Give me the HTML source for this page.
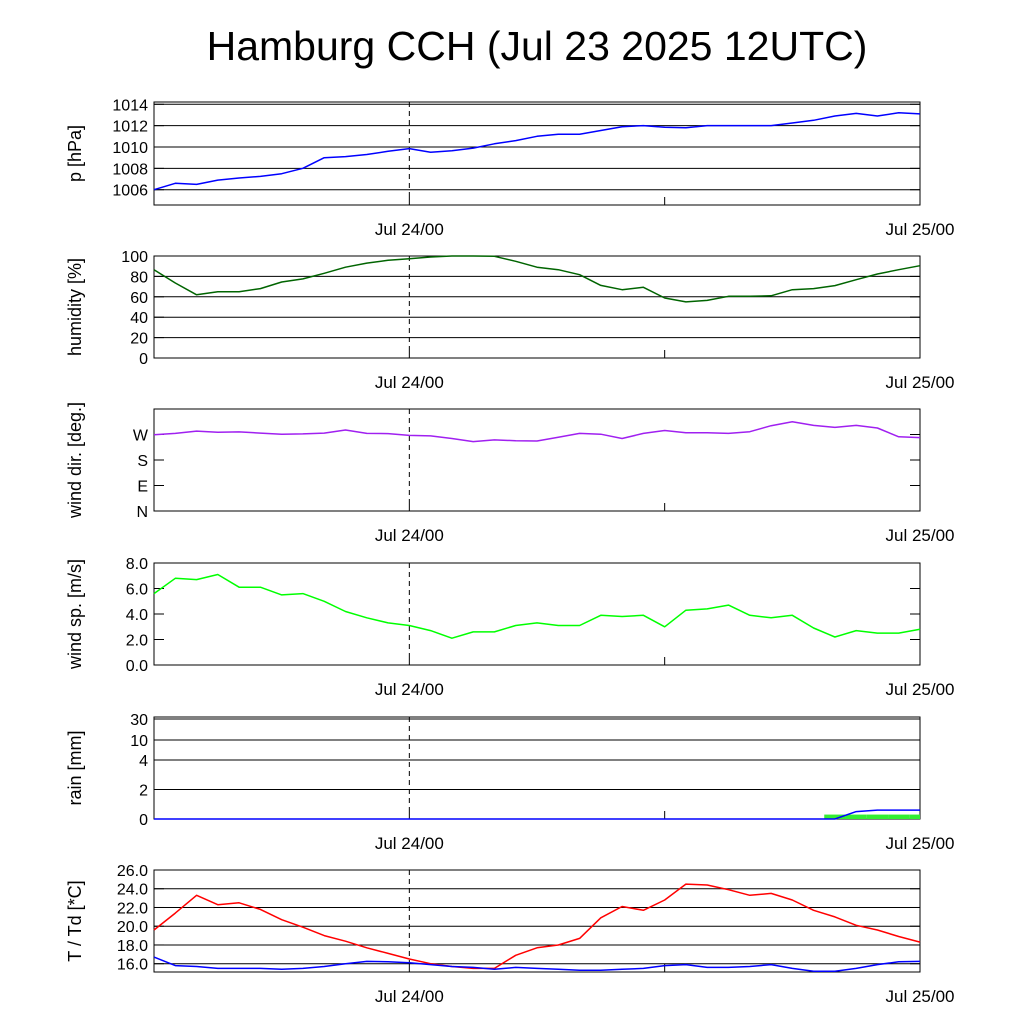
<!DOCTYPE html>
<html><head><meta charset="utf-8"><style>
body{margin:0;background:#fff;}
svg{display:block;font-family:"Liberation Sans",sans-serif;}
</style></head><body>
<svg id="c" width="1024" height="1024" viewBox="0 0 1024 1024">
<text x="537" y="60" font-size="41" text-anchor="middle">Hamburg CCH (Jul 23 2025 12UTC)</text>
</svg>
<script>
const hours = [0,1,2,3,4,5,6,7,8,9,10,11,12,13,14,15,16,17,18,19,20,21,22,23,24,25,26,27,28,29,30,31,32,33,34,35,36];
const pressure = [1006.0,1006.6,1006.5,1006.9,1007.1,1007.25,1007.5,1008.0,1009.0,1009.1,1009.3,1009.6,1009.85,1009.5,1009.65,1009.9,1010.3,1010.6,1011.0,1011.2,1011.2,1011.55,1011.9,1012.0,1011.85,1011.8,1012.0,1012.0,1012.0,1012.0,1012.25,1012.5,1012.9,1013.15,1012.9,1013.2,1013.1];
const humidity = [86.6,73.5,62,65,65,68,74.5,77.5,83,89,93,95.8,97.4,99,100,100,99.7,94.8,89,86.6,81.7,71.2,67,69.3,58.8,55,56.5,60.5,60.5,61,67,68,71,76.8,82.4,86.6,90.5];
const windDir = [269,274,282,278,279,275,271,272,275,286,274,273,267,265,256,245,251,248,247,260,274,271,256,274,284,276,276,274,280,301,315,302,295,302,293,262,259];
const windSpeed = [5.6,6.8,6.7,7.1,6.1,6.1,5.5,5.6,5.0,4.2,3.7,3.3,3.1,2.7,2.1,2.6,2.6,3.1,3.3,3.1,3.1,3.9,3.8,3.9,3.0,4.3,4.4,4.7,3.9,3.7,3.9,2.9,2.2,2.7,2.5,2.5,2.8];
const rainHourly = [0,0,0,0,0,0,0,0,0,0,0,0,0,0,0,0,0,0,0,0,0,0,0,0,0,0,0,0,0,0,0,0,0.3,0.3,0.3,0.3,0.3];
const rainAccum = [0,0,0,0,0,0,0,0,0,0,0,0,0,0,0,0,0,0,0,0,0,0,0,0,0,0,0,0,0,0,0,0,0,0.5,0.6,0.6,0.6];
const temp = [19.6,21.4,23.3,22.3,22.5,21.8,20.7,19.9,19.0,18.4,17.7,17.1,16.5,16.0,15.7,15.5,15.5,16.9,17.7,18.0,18.7,20.9,22.1,21.7,22.8,24.5,24.4,23.9,23.3,23.5,22.8,21.7,21.0,20.1,19.6,18.9,18.3];
const dew = [16.7,15.8,15.7,15.5,15.5,15.5,15.4,15.5,15.7,16.0,16.25,16.2,16.1,15.9,15.7,15.6,15.4,15.6,15.5,15.4,15.3,15.3,15.4,15.5,15.8,15.9,15.6,15.6,15.7,15.9,15.5,15.2,15.2,15.5,15.9,16.2,16.25];
const pTicks = [1006,1008,1010,1012,1014];
const hTicks = [0,20,40,60,80,100];
const dTicks = [0,90,180,270];
const dLabels = ["N","E","S","W"];
const sTicks = [0,2,4,6,8];
const rTicks = [0,2,4,10,30];
const tTicks = [16,18,20,22,24,26];

const NS="http://www.w3.org/2000/svg";
const svg=document.getElementById('c');
const X0=154,X1=920;
function xs(h){return X0+(X1-X0)*h/36;}
function mk(tag,attrs,parent){const e=document.createElementNS(NS,tag);for(const k in attrs)e.setAttribute(k,attrs[k]);(parent||svg).appendChild(e);return e;}

function panel(name,top,bot,ymap,ticks,labels,grid,title){
  const g=mk('g',{});
  
  
  ticks.forEach((t,i)=>{
    const y=ymap(t);
    if(grid){const l=mk('line',{x1:X0,x2:X1,y1:y,y2:y,stroke:'#000','stroke-width':1},g);
      
      }
    mk('line',{x1:X0,x2:X0+10,y1:y,y2:y,stroke:'#000'},g);
    mk('line',{x1:X1-10,x2:X1,y1:y,y2:y,stroke:'#000'},g);
    const tx=mk('text',{x:X0-6,y:y+6,'font-size':16,'text-anchor':'end'},g);
    tx.textContent=labels?labels[i]:(typeof labels==='undefined'?t:t);
    
    
  });
  mk('line',{x1:xs(12),x2:xs(12),y1:top,y2:bot-12,stroke:'#000','stroke-dasharray':'5,4'},g);
  mk('line',{x1:xs(12),x2:xs(12),y1:bot-12,y2:bot,stroke:'#000'},g);
  mk('line',{x1:xs(24),x2:xs(24),y1:bot-8,y2:bot,stroke:'#000'},g);
  const fr=mk('rect',{x:X0,y:top,width:X1-X0,height:bot-top,fill:'none',stroke:'#000','stroke-width':1},g);
  
  
  const cy=(top+bot)/2;
  const yt=mk('text',{x:0,y:0,'font-size':18,'text-anchor':'middle',transform:`translate(81,${cy}) rotate(-90)`},g);
  yt.textContent=title;
  
  
  [[12,'Jul 24/00'],[36,'Jul 25/00']].forEach(([h,s])=>{
    const d=mk('text',{x:xs(h),y:bot+30,'font-size':17,'text-anchor':'middle'},g);
    d.textContent=s;
    
    
  });
  return g;
}
function series(name,vals,ymap,color){
  const pts=vals.map((v,i)=>xs(hours[i]).toFixed(1)+','+ymap(v).toFixed(1)).join(' ');
  const p=mk('polyline',{points:pts,fill:'none',stroke:color,'stroke-width':1.5,'stroke-linejoin':'round'});
  
  
}
function lin(v0,y0,v1,y1){return v=>y0+(v-v0)*(y1-y0)/(v1-v0);}

const yP=lin(1006,189.7,1014,104.3);
panel('pressure',102,205,yP,pTicks,pTicks.map(String),true,'p [hPa]');
series('pressure-line',pressure,yP,'#0000ff');

const yH=lin(0,358,100,256);
panel('humidity',256,358,yH,hTicks,hTicks.map(String),true,'humidity [%]');
series('humidity-line',humidity,yH,'#006400');

const yD=lin(0,511,360,409);
panel('wind-direction',409,511,yD,dTicks,dLabels,false,'wind dir. [deg.]');
series('wind-direction-line',windDir,yD,'#a020f0');

const yS=lin(0,665,8,563);
panel('wind-speed',563,665,yS,sTicks,sTicks.map(v=>v.toFixed(1)),false,'wind sp. [m/s]');
series('wind-speed-line',windSpeed,yS,'#00ff00');

function yR(v){
  if(v<=4) return 819-v*14.75;
  if(v<=10) return 760-(v-4)*(20/6);
  return 740-(v-10)*(21/20);
}
panel('rain',717,819,yR,rTicks,rTicks.map(String),true,'rain [mm]');
rainHourly.forEach((v,i)=>{
  if(v<=0)return;
  const xa=Math.max(X0,xs(hours[i]-0.5)), xb=Math.min(X1,xs(hours[i]+0.5));
  const r=mk('rect',{x:xa,y:yR(v),width:xb-xa,height:819-yR(v),fill:'#33ee33'});
  
  
});
series('rain-accumulation-line',rainAccum,yR,'#0000ff');

const yT=lin(16,963.7,26,870);
panel('temperature',870,972,yT,tTicks,tTicks.map(v=>v.toFixed(1)),true,'T / Td [*C]');
series('temperature-line',temp,yT,'#ff0000');
series('dewpoint-line',dew,yT,'#0000ff');
</script>
</body></html>
